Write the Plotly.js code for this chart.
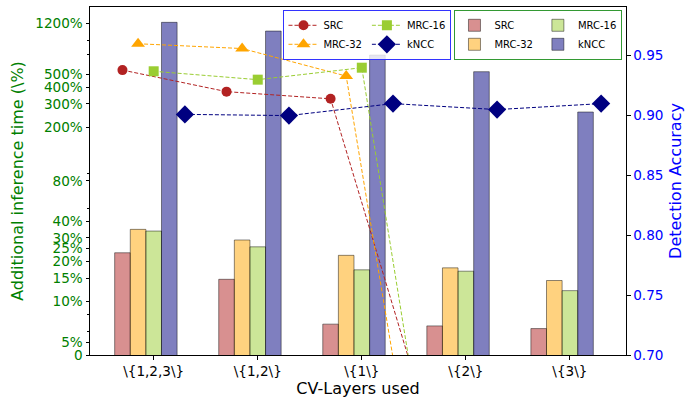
<!DOCTYPE html>
<html><head><meta charset="utf-8">
<script src="https://cdn.plot.ly/plotly-3.0.1.min.js"></script>
<style>html,body{margin:0;padding:0;background:#fff}#chart{width:686px;height:398px}</style>
</head><body><div id="chart"></div>
<script>
const categories = ['\\{1,2,3\\}', '\\{1,2\\}', '\\{1\\}', '\\{2\\}', '\\{3\\}'];
const seriesNames = ['SRC', 'MRC-32', 'MRC-16', 'kNCC'];
// Additional inference time (%), left axis (bars)
const timeSRC   = [23.2, 14.7, 6.8, 6.6, 6.3];
const timeMRC32 = [34.7, 28.9, 22.2, 17.9, 14.4];
const timeMRC16 = [33.7, 25.7, 17.3, 16.9, 12.1];
const timeKNCC  = [1220, 1050, 695, 522, 261];
// Detection accuracy, right axis (lines)
const accSRC   = [0.938, 0.920, 0.914, 0.625, 0.620];
const accMRC32 = [0.960, 0.956, 0.933, 0.410, 0.410];
const accMRC16 = [0.937, 0.930, 0.940, 0.401, 0.400];
const accKNCC  = [0.901, 0.900, 0.910, 0.905, 0.910];
// Tick labels
const timeTickVals = [4, 5, 10, 15, 20, 25, 30, 40, 80, 200, 300, 400, 500, 1200];
const timeTickText = ['0', '5%', '10%', '15%', '20%', '25%', '30%', '40%', '80%', '200%', '300%', '400%', '500%', '1200%'];
const timeMinorTicks = [6, 8, 50, 90, 700, 900];
const accTickVals = [0.70, 0.75, 0.80, 0.85, 0.90, 0.95];

const idx = categories.map((_, i) => i);
const FONT = 'DejaVu Sans, Liberation Sans, sans-serif';

const barStyle = [
  {fill: 'rgba(178,34,34,0.5)', group: 'b1', rank: 1, off: -0.375},
  {fill: 'rgba(255,165,0,0.5)', group: 'b1', rank: 2, off: -0.225},
  {fill: 'rgba(154,205,50,0.5)', group: 'b2', rank: 3, off: -0.075},
  {fill: 'rgba(0,0,128,0.5)', group: 'b2', rank: 4, off: 0.075}
];
const lineStyle = [
  {color: '#b22222', symbol: 'circle', size: 10, group: 'l1', rank: 1, dx: -0.3},
  {color: '#ffa500', symbol: 'triangle-up', size: 12, group: 'l1', rank: 2, dx: -0.15},
  {color: '#9acd32', symbol: 'square', size: 10, group: 'l2', rank: 3, dx: 0},
  {color: '#000080', symbol: 'diamond', size: 14, group: 'l2', rank: 4, dx: 0.3}
];
const timeSeries = [timeSRC, timeMRC32, timeMRC16, timeKNCC];
const accSeries = [accSRC, accMRC32, accMRC16, accKNCC];

const traces = [];
timeSeries.forEach((vals, k) => {
  const s = barStyle[k];
  traces.push({
    type: 'bar', name: seriesNames[k], x: idx, y: vals,
    width: 0.15, offset: s.off,
    marker: {color: s.fill, line: {color: 'rgba(0,0,0,0.45)', width: 1}},
    legend: 'legend2', legendgroup: s.group, legendrank: s.rank,
    xaxis: 'x', yaxis: 'y'
  });
});
accSeries.forEach((vals, k) => {
  const s = lineStyle[k];
  traces.push({
    type: 'scatter', mode: 'lines+markers', name: seriesNames[k],
    x: idx.map(i => i + s.dx), y: vals,
    line: {color: s.color, width: 1, dash: '4px,2px'},
    marker: {color: s.color, symbol: s.symbol, size: s.size},
    legend: 'legend', legendgroup: s.group, legendrank: s.rank,
    xaxis: 'x', yaxis: 'y2', cliponaxis: true
  });
});

const legendCommon = {
  orientation: 'h', traceorder: 'grouped', xanchor: 'left', yanchor: 'top',
  borderwidth: 1, bgcolor: 'rgba(255,255,255,0.8)', tracegroupgap: 0,
  font: {family: FONT, size: 10, color: '#000'}
};

const layout = {
  width: 686, height: 398,
  margin: {l: 89.5, r: 59.5, t: 7, b: 43},
  paper_bgcolor: '#fff', plot_bgcolor: '#fff',
  font: {family: FONT, size: 13.6, color: '#000'},
  showlegend: true,
  barmode: 'overlay',
  xaxis: {
    range: [-0.612, 4.539], tickmode: 'array', tickvals: idx, ticktext: categories,
    showline: true, linecolor: '#000', linewidth: 1, mirror: true,
    ticks: 'outside', ticklen: 3.5, tickcolor: '#000', showgrid: false, zeroline: false,
    title: {text: 'CV-Layers used', font: {size: 16, color: '#000'}, standoff: 5}
  },
  yaxis: {
    type: 'log', range: [Math.log10(4), Math.log10(1588)],
    tickmode: 'array', tickvals: timeTickVals, ticktext: timeTickText,
    tickfont: {color: 'green'}, showline: true, linecolor: '#000', linewidth: 1,
    ticks: 'outside', ticklen: 3.5, tickcolor: '#000', showgrid: false, zeroline: false,
    minor: {tickmode: 'array', tickvals: timeMinorTicks, ticks: 'outside', ticklen: 2, tickcolor: '#000', showgrid: false},
    title: {text: 'Additional inference time (\\%)', font: {size: 16, color: 'green'}, standoff: 7}
  },
  yaxis2: {
    overlaying: 'y', side: 'right', range: [0.70, 0.9907],
    tickmode: 'array', tickvals: accTickVals, tickformat: '.2f',
    tickfont: {color: 'blue'}, showline: true, linecolor: '#000', linewidth: 1,
    ticks: 'outside', ticklen: 3.5, tickcolor: '#000', showgrid: false, zeroline: false,
    title: {text: 'Detection Accuracy', font: {size: 16, color: 'blue'}, standoff: 7}
  },
  legend: Object.assign({}, legendCommon, {x: 0.361, y: 0.992, bordercolor: 'rgb(51,51,255)'}),
  legend2: Object.assign({}, legendCommon, {x: 0.680, y: 0.992, bordercolor: 'rgb(51,153,51)'})
};

Plotly.newPlot('chart', traces, layout, {staticPlot: true, displayModeBar: false});
</script>
</body></html>
